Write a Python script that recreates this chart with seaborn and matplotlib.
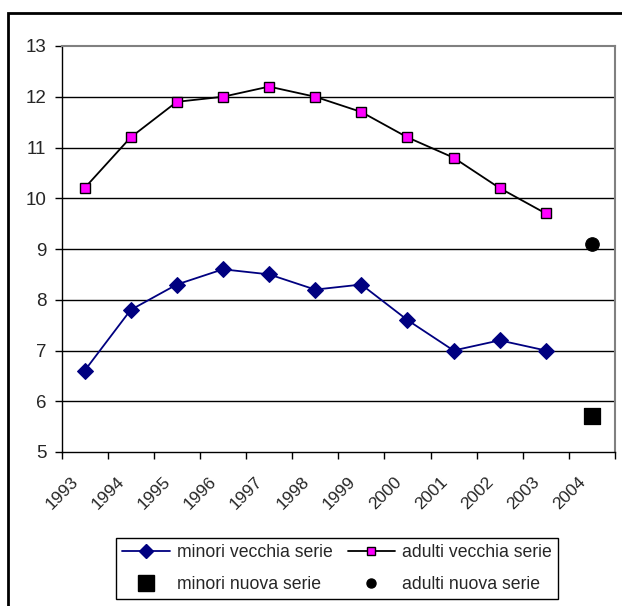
import numpy as np
import pandas as pd
import matplotlib
matplotlib.use("Agg")
import matplotlib.pyplot as plt
import matplotlib.transforms as mtransforms
import seaborn as sns
from matplotlib.patches import Rectangle
from matplotlib.lines import Line2D

anni = ['1993', '1994', '1995', '1996', '1997', '1998', '1999', '2000', '2001', '2002', '2003', '2004']
minori_vecchia = [6.6, 7.8, 8.3, 8.6, 8.5, 8.2, 8.3, 7.6, 7.0, 7.2, 7.0]
adulti_vecchia = [10.2, 11.2, 11.9, 12.0, 12.2, 12.0, 11.7, 11.2, 10.8, 10.2, 9.7]
minori_nuova = [5.7]
adulti_nuova = [9.1]
anni_nuova = ['2004']
y_ticks = [5, 6, 7, 8, 9, 10, 11, 12, 13]

sns.set_theme(style='white')
plt.rcParams['font.family'] = ['Liberation Sans', 'DejaVu Sans']

pos_v = np.arange(len(minori_vecchia))
pos_n = np.array([anni.index(a) for a in anni_nuova])

fig = plt.figure(figsize=(6.22, 6.06), dpi=100)
ax = fig.add_axes([61.5/622, 1-452/606, (615-61.5)/622, (452-46)/606])

for yv in y_ticks[1:-1]:
    ax.axhline(yv, color='black', lw=1, zorder=0)

sns.lineplot(x=pos_v, y=minori_vecchia, color='#000080', marker='D', markersize=8,
             markeredgecolor='#000080', linewidth=1.3, ax=ax, legend=False)
sns.lineplot(x=pos_v, y=adulti_vecchia, color='black', marker='s', markersize=6.8,
             markerfacecolor='#FF00FF', markeredgecolor='black', markeredgewidth=1,
             linewidth=1.3, ax=ax, legend=False)
sns.scatterplot(x=pos_n, y=minori_nuova, marker='s', color='black', s=130,
                edgecolor='black', ax=ax, legend=False)
sns.scatterplot(x=pos_n, y=adulti_nuova, marker='o', color='black', s=95,
                edgecolor='black', ax=ax, legend=False)

ax.set_xlim(-0.5, len(anni) - 0.5)
ax.set_ylim(5, 13)
ax.set_yticks(y_ticks)
ax.set_yticklabels([str(v) for v in y_ticks], fontsize=13.5)
ax.set_xticks(np.arange(len(anni)))
ax.set_xticks(np.arange(len(anni) + 1) - 0.5, minor=True)
ax.tick_params(axis='x', which='major', length=0, pad=16)
ax.tick_params(axis='x', which='minor', length=5, width=1, color='black', direction='out', bottom=True)
ax.tick_params(axis='y', length=5, width=1, color='black', direction='out', left=True, pad=6)
ax.set_xticklabels(anni, rotation=45, ha='right', va='top', rotation_mode='anchor', fontsize=12.5)
offset = mtransforms.ScaledTranslation(-14/100, 0, fig.dpi_scale_trans)
for lab in ax.get_xticklabels():
    lab.set_transform(lab.get_transform() + offset)
ax.set_xlabel('')
ax.set_ylabel('')

for side in ['top', 'right']:
    ax.spines[side].set_color('#808080')
    ax.spines[side].set_linewidth(1.5)
for side in ['left', 'bottom']:
    ax.spines[side].set_color('black')
    ax.spines[side].set_linewidth(1)

# outer chart border
fig.patches.append(Rectangle((8/622, -0.05), 1.1, 1 - 13/606 + 0.05, transform=fig.transFigure,
                             fill=False, edgecolor='black', linewidth=2))

h_minori_v = Line2D([], [], color='#000080', marker='D', markersize=7, lw=1.3)
h_adulti_v = Line2D([], [], color='black', marker='s', markersize=6, markerfacecolor='#FF00FF',
                    markeredgecolor='black', lw=1.3)
h_minori_n = Line2D([], [], color='black', marker='s', markersize=11, lw=0)
h_adulti_n = Line2D([], [], color='black', marker='o', markersize=6.5, lw=0)
handles = [h_minori_v, h_minori_n, h_adulti_v, h_adulti_n]
labels = ['minori vecchia serie', 'minori nuova serie', 'adulti vecchia serie', 'adulti nuova serie']
leg = fig.legend(handles, labels, ncol=2, loc='upper left',
                 bbox_to_anchor=(116/622, 1 - 538/606), fontsize=12.7,
                 frameon=True, fancybox=False, edgecolor='black', framealpha=1,
                 handlelength=2.7, handletextpad=0.4, columnspacing=0.85,
                 labelspacing=0.85, borderpad=0.35, borderaxespad=0)
leg.get_frame().set_linewidth(1)

fig.savefig('out.png', dpi=100)
